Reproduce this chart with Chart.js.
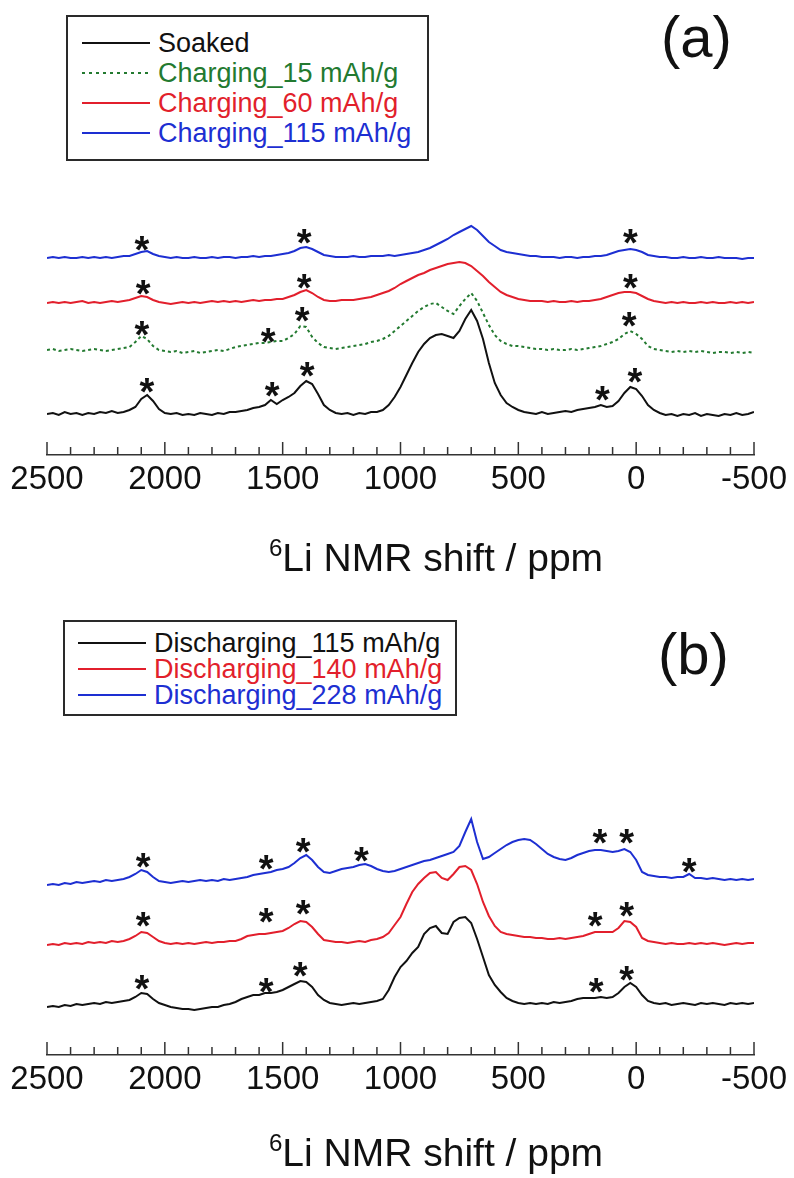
<!DOCTYPE html>
<html>
<head>
  <title>6Li NMR spectra</title>
  <script src="https://cdn.jsdelivr.net/npm/chart.js"></script>
  <style>
    body { margin: 0; background: #fff; font-family: "Liberation Sans", Arial, Helvetica, sans-serif; }
    .page { position: relative; width: 794px; height: 1178px; overflow: hidden; }
    canvas { position: absolute; left: 0; }
    #chartA { top: 0; }
    #chartB { top: 589px; }
    .legend {
      position: absolute; box-sizing: border-box;
      border: 2px solid #2a2a2a; background: #fff;
      font-size: 27px; line-height: 1;
    }
    .legend .row { display: flex; align-items: center; white-space: nowrap; }
    .legend .swatch { display: inline-block; width: 68px; height: 2px; margin-right: 8px; }
    .panel-label { position: absolute; font-size: 58px; line-height: 1; color: #111; }
    .axis-title {
      position: absolute; font-size: 39px; line-height: 1; color: #111;
      transform: translate(-50%, -50%); white-space: nowrap;
    }
    .axis-title sup { font-size: 0.62em; vertical-align: baseline; position: relative; top: -0.62em; }
  </style>
</head>
<body>
<div class="page">
  <canvas id="chartA" width="794" height="589"></canvas>
  <canvas id="chartB" width="794" height="589"></canvas>

  <div class="legend" id="legendA" style="left:66px; top:15px; width:363px; height:146px; padding:11px 0 0 14px;"></div>
  <div class="panel-label" style="left:661px; top:8px;">(a)</div>
  <div class="axis-title" style="left:436px; top:557px;"><sup>6</sup>Li NMR shift / ppm</div>

  <div class="legend" id="legendB" style="left:63px; top:620px; width:394px; height:96px; padding:8px 0 0 13px;"></div>
  <div class="panel-label" style="left:658px; top:625px;">(b)</div>
  <div class="axis-title" style="left:436px; top:1152px;"><sup>6</sup>Li NMR shift / ppm</div>
</div>

<script>
  const FONT = '"Liberation Sans", Arial, Helvetica, sans-serif';

  // chemical shift grid (ppm), shared by every spectrum
  const ppm = [
    2500, 2475, 2450, 2425, 2400, 2375, 2350, 2325,
    2300, 2275, 2250, 2225, 2200, 2175, 2150, 2125,
    2100, 2075, 2050, 2025, 2000, 1975, 1950, 1925,
    1900, 1875, 1850, 1825, 1800, 1775, 1750, 1725,
    1700, 1675, 1650, 1625, 1600, 1575, 1550, 1525,
    1500, 1475, 1450, 1425, 1400, 1375, 1350, 1325,
    1300, 1275, 1250, 1225, 1200, 1175, 1150, 1125,
    1100, 1075, 1050, 1025, 1000, 975, 950, 925,
    900, 875, 850, 825, 800, 775, 750, 725,
    700, 675, 650, 625, 600, 575, 550, 525,
    500, 475, 450, 425, 400, 375, 350, 325,
    300, 275, 250, 225, 200, 175, 150, 125,
    100, 75, 50, 25, 0, -25, -50, -75,
    -100, -125, -150, -175, -200, -225, -250, -275,
    -300, -325, -350, -375, -400, -425, -450, -475,
    -500
  ];

  // ---- panel (a): charging ----
  const namesA = ['Soaked', 'Charging_15 mAh/g', 'Charging_60 mAh/g', 'Charging_115 mAh/g'];
  const colorsA = ['#111111', '#237a30', '#e21f2c', '#1d2fd2'];
  const dashesA = [[], [3, 3], [], []];
  const offsetsA = [40, 104, 152, 197];

  const soaked = [
    1, 2, 0, 3, 1, 2, 0, 2,
    1, 3, 2, 4, 2, 3, 5, 8,
    16, 20, 14, 6, 2, 1, 2, 0,
    1, 0, 2, 1, 0, 2, 1, 3,
    3, 4, 5, 7, 8, 10, 15, 11,
    15, 18, 22, 29, 34, 31, 21, 10,
    5, 2, 1, 2, 0, 2, 1, 3,
    3, 5, 10, 18, 28, 40, 52, 63,
    71, 77, 80, 81, 79, 77, 84, 96,
    105, 94, 76, 52, 32, 20, 12, 8,
    5, 3, 2, 1, 3, 1, 2, 3,
    4, 3, 5, 6, 7, 8, 10, 8,
    9, 14, 22, 28, 26, 19, 10, 5,
    2, 0, 1, -1, 1, 0, 2, -1,
    1, 0, -1, 1, 0, 2, 0, 1,
    3
  ];
  const charging15 = [
    1, 2, 0, 1, 2, 1, 0, 1,
    2, 1, 0, 1, 2, 3, 4, 9,
    15, 12, 5, 1, 0, -1, 0, -2,
    -1, 0, -2, -1, 0, 1, 0, 2,
    4, 5, 6, 7, 8, 8, 9, 10,
    10, 13, 17, 25, 24, 14, 8, 4,
    3, 2, 3, 4, 5, 6, 7, 9,
    10, 12, 15, 20, 25, 30, 35, 40,
    44, 47, 48, 44, 40, 37, 45, 52,
    58, 50, 38, 26, 16, 10, 7, 5,
    5, 4, 3, 2, 2, 1, 2, 1,
    1, 2, 1, 2, 3, 4, 5, 7,
    9, 12, 17, 20, 17, 12, 5, 2,
    1, 0, -1, 0, -1, 0, -1, 0,
    -1, -2, -1, -1, -2, -1, -2, -1,
    -2
  ];
  const charging60 = [
    0, 1, 0, 1, 0, 1, 2, 0,
    1, 0, 1, 2, 1, 2, 3, 5,
    7, 6, 3, 1, 0, -1, 0, 1,
    0, 1, 0, 1, 2, 1, 2, 1,
    2, 1, 2, 3, 2, 3, 3, 4,
    4, 6, 8, 11, 13, 10, 6, 3,
    2, 2, 3, 3, 3, 4, 5, 6,
    8, 10, 12, 15, 19, 22, 25, 28,
    30, 33, 35, 37, 39, 40, 41, 40,
    37, 32, 27, 21, 16, 11, 8, 6,
    4, 3, 2, 2, 2, 1, 2, 1,
    1, 2, 1, 2, 2, 3, 4, 6,
    8, 10, 11, 11, 10, 7, 4, 2,
    1, 0, 1, 0, 1, 0, 0, 1,
    0, 1, 0, 0, 1, 0, 1, 0,
    1
  ];
  const charging115 = [
    0, 1, 0, 1, 0, 0, 1, 0,
    1, 0, 1, 0, 1, 2, 2, 4,
    6, 7, 4, 2, 1, 0, 1, 0,
    0, 1, 0, 0, 1, 0, 1, 1,
    0, 1, 1, 2, 1, 2, 2, 3,
    4, 5, 7, 10, 11, 9, 6, 3,
    2, 1, 1, 1, 2, 1, 1, 2,
    2, 2, 3, 2, 3, 4, 5, 6,
    8, 10, 13, 16, 19, 23, 26, 29,
    32, 28, 22, 16, 12, 8, 6, 5,
    4, 3, 2, 2, 1, 1, 1, 0,
    1, 1, 0, 1, 1, 2, 2, 3,
    5, 7, 8, 9, 8, 6, 3, 2,
    1, 1, 0, 0, 1, 0, 0, 1,
    0, 0, 1, 0, 0, 0, -1, 0,
    0
  ];
  // asterisks: [ppm, height]
  const starsA = [
    [2097, 214], [1409, 221], [25, 221],
    [2092, 170], [1409, 176], [25, 176],
    [2097, 129], [1562, 122], [1417, 143], [30, 138],
    [2076, 72], [1545, 68], [1396, 88], [143, 64], [5, 82]
  ];

  // ---- panel (b): discharging ----
  const namesB = ['Discharging_115 mAh/g', 'Discharging_140 mAh/g', 'Discharging_228 mAh/g'];
  const colorsB = ['#111111', '#e21f2c', '#1d2fd2'];
  const dashesB = [[], [], []];
  const offsetsB = [50, 111, 173];

  const discharging115 = [
    -2, -1, -2, 0, -1, 1, 0, 1,
    2, 1, 3, 2, 3, 4, 5, 8,
    12, 11, 6, 2, 0, -2, -3, -4,
    -4, -5, -4, -3, -2, -2, 0, 1,
    3, 6, 8, 10, 10, 12, 12, 13,
    15, 18, 21, 24, 23, 18, 10, 5,
    2, 1, 0, 1, 2, 1, 2, 3,
    4, 6, 15, 28, 38, 44, 52, 58,
    71, 77, 79, 72, 71, 83, 87, 88,
    82, 66, 48, 30, 20, 13, 7, 4,
    2, 1, 2, 1, 2, 1, 3, 2,
    3, 4, 6, 7, 7, 7, 8, 7,
    8, 12, 18, 22, 18, 10, 4, 2,
    1, 2, 0, 1, 2, 1, 0, 2,
    1, 2, 1, 0, 2, 1, 2, 1,
    2
  ];
  const discharging140 = [
    -1, 0, -1, 1, 0, 1, 0, 2,
    1, 2, 1, 3, 2, 3, 5, 8,
    12, 11, 7, 3, 1, 0, 1, 0,
    1, 0, 1, 2, 1, 2, 2, 3,
    3, 5, 8, 9, 10, 10, 11, 12,
    13, 16, 20, 23, 22, 17, 10, 4,
    3, 2, 2, 1, 2, 3, 2, 4,
    5, 7, 11, 19, 27, 40, 52, 60,
    66, 71, 72, 66, 64, 70, 77, 78,
    74, 60, 42, 28, 18, 12, 10, 9,
    8, 7, 7, 6, 6, 5, 5, 6,
    5, 6, 7, 8, 10, 12, 12, 12,
    12, 16, 23, 22, 17, 6, 3, 2,
    1, 0, 1, 0, 0, 1, 0, 1,
    0, 1, 0, -1, 0, 1, 0, 1,
    1
  ];
  const discharging228 = [
    -3, -2, -3, -1, -2, 0, -1, 0,
    1, 0, 2, 1, 2, 3, 5, 8,
    12, 10, 5, 1, 0, -1, 0, 1,
    0, 1, 2, 1, 2, 1, 3, 2,
    3, 4, 5, 7, 8, 9, 10, 12,
    13, 15, 19, 24, 27, 22, 15, 10,
    9, 11, 13, 14, 15, 17, 18, 16,
    13, 11, 10, 11, 13, 15, 17, 19,
    21, 22, 24, 26, 28, 30, 36, 50,
    63, 40, 23, 25, 29, 33, 37, 40,
    42, 43, 42, 38, 33, 28, 25, 23,
    22, 24, 27, 29, 31, 32, 32, 31,
    30, 31, 33, 30, 22, 10, 7, 6,
    5, 5, 4, 5, 5, 8, 4, 4,
    3, 4, 3, 2, 3, 2, 3, 2,
    3
  ];
  const starsB = [
    [2092, 197], [1570, 195], [1413, 212], [1166, 203], [154, 221], [40, 221], [-225, 192],
    [2092, 138], [1570, 142], [1413, 150], [174, 138], [40, 148],
    [2097, 75], [1570, 72], [1426, 88], [170, 72], [40, 84]
  ];

  // inward tick marks (major every 500, minor every 100) and the peak asterisks
  const axisMarks = {
    id: 'axisMarks',
    afterDraw(chart, args, opts) {
      const { ctx, chartArea, scales: { x, y } } = chart;
      ctx.save();
      ctx.strokeStyle = '#333';
      ctx.lineWidth = 1.5;
      for (let v = -500; v <= 2500; v += 100) {
        const px = x.getPixelForValue(v);
        const len = v % 500 === 0 ? 13 : 8;
        ctx.beginPath();
        ctx.moveTo(px, chartArea.bottom);
        ctx.lineTo(px, chartArea.bottom - len);
        ctx.stroke();
      }
      ctx.fillStyle = '#111';
      ctx.font = 'bold 38px ' + FONT;
      ctx.textAlign = 'center';
      ctx.textBaseline = 'alphabetic';
      opts.stars.forEach(([p, v]) => {
        ctx.fillText('*', x.getPixelForValue(p), y.getPixelForValue(v) + 22);
      });
      ctx.restore();
    }
  };

  function spectrumChart(id, names, colors, dashes, offsets, spectra, yMax, padBottom, stars) {
    return new Chart(document.getElementById(id), {
      type: 'line',
      data: {
        datasets: spectra.map((vals, k) => ({
          label: names[k],
          data: vals.map((v, i) => ({ x: ppm[i], y: v + offsets[k] })),
          borderColor: colors[k],
          borderWidth: 2,
          borderDash: dashes[k],
          pointRadius: 0,
          tension: 0,
          fill: false
        }))
      },
      options: {
        responsive: false,
        animation: false,
        events: [],
        layout: { padding: { left: 47, right: 40, top: 0, bottom: padBottom } },
        plugins: {
          legend: { display: false },
          tooltip: { enabled: false },
          axisMarks: { stars: stars }
        },
        scales: {
          x: {
            type: 'linear',
            reverse: true,
            min: -500,
            max: 2500,
            ticks: {
              stepSize: 500,
              padding: 5,
              color: '#111',
              font: { size: 33, family: FONT },
              callback: (v) => String(v)
            },
            grid: { display: false, drawTicks: false },
            border: { display: true, color: '#333', width: 1.5 }
          },
          y: { display: false, min: 0, max: yMax }
        }
      },
      plugins: [axisMarks]
    });
  }

  function buildLegend(el, names, colors, dashes, rowHeight) {
    names.forEach((n, k) => {
      const row = document.createElement('div');
      row.className = 'row';
      row.style.height = rowHeight + 'px';
      const sw = document.createElement('span');
      sw.className = 'swatch';
      sw.style.background = dashes[k].length
        ? 'repeating-linear-gradient(to right, ' + colors[k] + ' 0 3px, transparent 3px 7px)'
        : colors[k];
      const t = document.createElement('span');
      t.textContent = n;
      t.style.color = colors[k];
      row.append(sw, t);
      el.append(row);
    });
  }

  spectrumChart('chartA', namesA, colorsA, dashesA, offsetsA,
    [soaked, charging15, charging60, charging115], 455, 84.4, starsA);
  spectrumChart('chartB', namesB, colorsB, dashesB, offsetsB,
    [discharging115, discharging140, discharging228], 466, 73.4, starsB);

  buildLegend(document.getElementById('legendA'), namesA, colorsA, dashesA, 30);
  buildLegend(document.getElementById('legendB'), namesB, colorsB, dashesB, 26);
</script>
</body>
</html>
